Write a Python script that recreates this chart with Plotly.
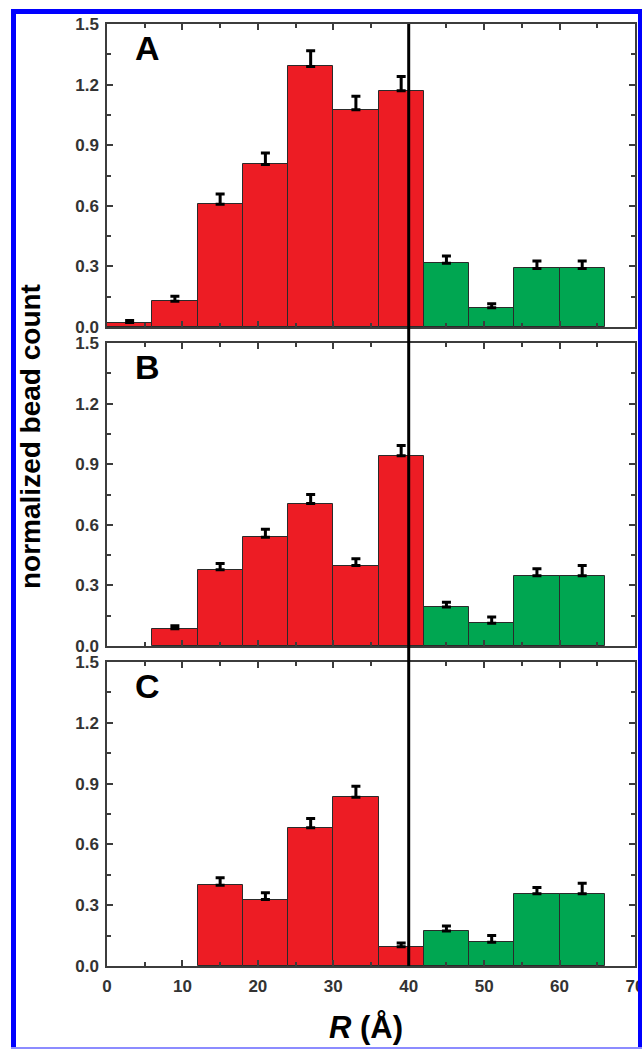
import plotly.graph_objects as go

# ---------------- data ----------------
red_R = [3, 9, 15, 21, 27, 33, 39]      # bin centres (Å), bins of 6 Å
green_R = [45, 51, 57, 63]

A_red = [0.022, 0.128, 0.608, 0.805, 1.29, 1.075, 1.17]
A_red_err = [0.010, 0.024, 0.050, 0.057, 0.077, 0.067, 0.070]
A_green = [0.315, 0.095, 0.29, 0.29]
A_green_err = [0.037, 0.020, 0.037, 0.037]

B_red = [None, 0.085, 0.378, 0.538, 0.705, 0.398, 0.942]
B_red_err = [None, 0.015, 0.030, 0.040, 0.045, 0.034, 0.050]
B_green = [0.193, 0.113, 0.348, 0.348]
B_green_err = [0.024, 0.030, 0.034, 0.050]

C_red = [None, None, 0.398, 0.328, 0.682, 0.833, 0.095]
C_red_err = [None, None, 0.037, 0.034, 0.046, 0.054, 0.018]
C_green = [0.173, 0.117, 0.357, 0.357]
C_green_err = [0.024, 0.033, 0.030, 0.051]

panel_labels = ["A", "B", "C"]
cutoff_R = 40
bin_width = 6

RED = "#ED1C24"
GREEN = "#00A651"
FONT = "Liberation Sans, Arial, sans-serif"

W, H = 642, 1049
L, R_, T, B_ = 107, 7, 24, 83
PW = W - L - R_
PH = H - T - B_

def px_x(x):
    return (x - L) / PW

def px_y(y):
    return (H - B_ - y) / PH

panels_px = [(24, 327), (343, 646), (662, 966)]

fig = go.Figure()

datasets = [
    (A_red, A_red_err, A_green, A_green_err),
    (B_red, B_red_err, B_green, B_green_err),
    (C_red, C_red_err, C_green, C_green_err),
]

for i, (rv, re, gv, ge) in enumerate(datasets):
    n = i + 1
    xa = "x" if n == 1 else f"x{n}"
    ya = "y" if n == 1 else f"y{n}"
    for xs, ys, es, col in [(red_R, rv, re, RED), (green_R, gv, ge, GREEN)]:
        fig.add_trace(go.Bar(
            x=xs, y=ys, width=bin_width, xaxis=xa, yaxis=ya,
            marker=dict(color=col, line=dict(color="#2a2a2a", width=1)),
            error_y=dict(type="data", symmetric=False, array=es,
                         arrayminus=[0 if e is not None else None for e in es],
                         color="black", thickness=3, width=4.5),
            showlegend=False, hoverinfo="skip",
        ))

axis_common = dict(
    showline=True, linecolor="#3c3c3c", linewidth=1.5, mirror="ticks",
    ticks="inside", tickcolor="#3c3c3c", tickwidth=1.5,
    showgrid=False, zeroline=False, automargin=False,
    tickfont=dict(family=FONT, size=17, color="#333333", weight="bold"),
)

layout = dict(
    width=W, height=H,
    margin=dict(l=L, r=R_, t=T, b=B_, autoexpand=False),
    paper_bgcolor="white", plot_bgcolor="white",
    barmode="overlay", bargap=0,
)

for i, (top, bot) in enumerate(panels_px):
    n = i + 1
    xk = "xaxis" if n == 1 else f"xaxis{n}"
    yk = "yaxis" if n == 1 else f"yaxis{n}"
    ya = "y" if n == 1 else f"y{n}"
    xa = "x" if n == 1 else f"x{n}"
    layout[xk] = dict(axis_common, domain=[0, 1], anchor=ya, range=[0, 70],
                      tick0=0, dtick=10, ticklen=6,
                      minor=dict(dtick=5, ticks="inside", ticklen=4,
                                 tickcolor="#3c3c3c", tickwidth=1.5),
                      showticklabels=(n == 3), ticklabelstandoff=4,
                      ticklabeloverflow="allow")
    layout[yk] = dict(axis_common, domain=[px_y(bot), px_y(top)], anchor=xa,
                      range=[0, 1.5], tick0=0, dtick=0.3, ticklen=6,
                      tickformat=".1f",
                      minor=dict(dtick=0.15, ticks="inside", ticklen=4,
                                 tickcolor="#3c3c3c", tickwidth=1.5),
                      ticklabelstandoff=3)

fig.update_layout(**layout)

# panel letters
for i, (top, bot) in enumerate(panels_px):
    fig.add_annotation(
        text=f"<b>{panel_labels[i]}</b>", xref="paper", yref="paper",
        x=px_x(147), y=px_y(top + 24), xanchor="center", yanchor="middle",
        showarrow=False, font=dict(family=FONT, size=34, color="black"))

# axis titles
fig.add_annotation(
    text="<b><i>R</i> (Å)</b>", xref="paper", yref="paper",
    x=px_x(366), y=px_y(1027), xanchor="center", yanchor="middle",
    showarrow=False, font=dict(family=FONT, size=31, color="black"))
fig.add_annotation(
    text="<b>normalized bead count</b>", xref="paper", yref="paper",
    x=px_x(30), y=px_y(437), xanchor="center", yanchor="middle",
    textangle=-90, showarrow=False,
    font=dict(family=FONT, size=28, color="black"))

# vertical cutoff line across all panels
fig.add_shape(type="line", xref="x3", yref="paper", x0=cutoff_R, x1=cutoff_R,
              y0=0, y1=1, line=dict(color="black", width=3), layer="above")

# blue frame
BLUE = "#0000FF"
frame = [
    (13.5, 11.5, 13.5, 1049, BLUE, 5),
    (11, 11.5, 642, 11.5, BLUE, 5),
    (640.5, 11.5, 640.5, 1049, BLUE, 5),
    (11, 1048, 642, 1048, "#8C8CFF", 2),
]
for x0, y0, x1, y1, c, w in frame:
    fig.add_shape(type="line", xref="paper", yref="paper",
                  x0=px_x(x0), y0=px_y(y0), x1=px_x(x1), y1=px_y(y1),
                  line=dict(color=c, width=w), layer="above")

fig.write_html("out.html", config={"displayModeBar": False},
               post_script="document.body.style.margin='0px';"
                           "document.body.style.overflow='hidden';")
